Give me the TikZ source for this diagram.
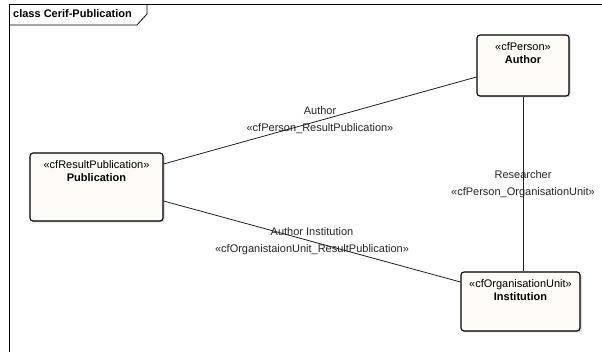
\documentclass[tikz,border=0pt]{standalone}
\usepackage{fontspec}
\setmainfont{Liberation Sans}
\definecolor{classfill}{RGB}{255, 251, 246}
\definecolor{linkgray}{RGB}{30, 30, 30}
\usetikzlibrary{shadows, calc}

\begin{document}
\begin{tikzpicture}[
  x=1pt, y=-1pt, font=\fontsize{11}{13}\selectfont,
  umlclass/.style={draw=black, line width=1.1pt, fill=classfill, rounded corners=3pt,
    drop shadow={shadow xshift=1.5pt, shadow yshift=-1.5pt, fill=black!30, opacity=0.6}},
  classtext/.style={anchor=north, align=center, yshift=-6pt, inner sep=2pt},
  assoc/.style={draw=linkgray, line width=0.8pt},
  assoclabel/.style={align=center, inner sep=1pt, text=black!85}
]
  \clip (0,0) rectangle (602,352);
  % diagram frame with its tab
  \draw[line width=0.8pt] (9,360) -- (9,4) -- (610,4);
  \draw[line width=0.8pt] (9,25) -- (137,25) -- (147,14) -- (147,4);
  \node[anchor=west, inner sep=0pt, font=\fontsize{11}{13}\selectfont\bfseries] (title) at (13,14) {class Cerif-Publication};

  % classes
  \node[umlclass, minimum width=133pt, minimum height=68pt,
    label={[classtext]north:{«cfResultPublication»\\\textbf{Publication}}}] (pub) at (96.5,187) {};
  \node[umlclass, minimum width=92pt, minimum height=61pt,
    label={[classtext]north:{«cfPerson»\\\textbf{Author}}}] (author) at (523,65.5) {};
  \node[umlclass, minimum width=119pt, minimum height=59pt,
    label={[classtext]north:{«cfOrganisationUnit»\\\textbf{Institution}}}] (inst) at (520.5,301.5) {};

  % associations
  \draw[assoc] ([yshift=23pt]pub.east) -- node[assoclabel] {Author\\[4pt]«cfPerson\_ResultPublication»} ([yshift=-11.5pt]author.west);
  \draw[assoc] ([yshift=-14pt]pub.east) -- node[assoclabel] {Author Institution\\[4pt]«cfOrganistaionUnit\_ResultPublication»} ([yshift=19.5pt]inst.west);
  \draw[assoc] (author.south) -- node[assoclabel] {Researcher\\[4pt]«cfPerson\_OrganisationUnit»} (author.south |- inst.north);
\end{tikzpicture}
\end{document}
